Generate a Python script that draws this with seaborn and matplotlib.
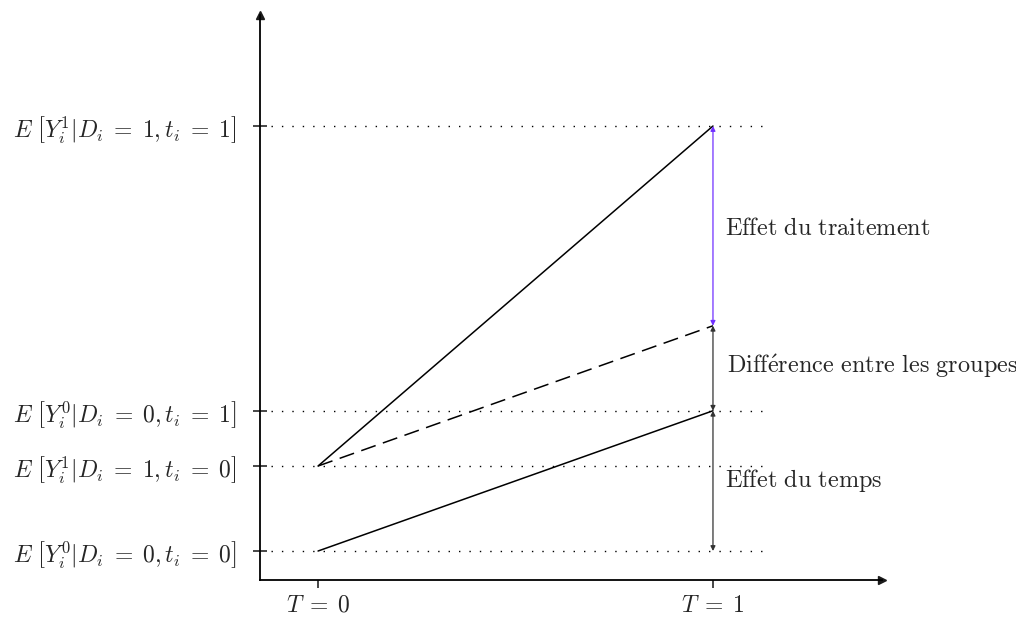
import numpy as np
import pandas as pd
import matplotlib.pyplot as plt
import seaborn as sns

# Difference-in-differences diagram, levels (arbitrary units)
periods = [0, 1]
treated = [2.0, 6.0]
counterfactual = [2.0, 3.65]
control = [1.0, 2.65]

level_values = [1.0, 2.0, 2.65, 6.0]
level_labels = [
    r"$E\ \left[Y_i^0|D_i\;=\;0,t_i\;=\;0\right]$",
    r"$E\ \left[Y_i^1|D_i\;=\;1,t_i\;=\;0\right]$",
    r"$E\ \left[Y_i^0|D_i\;=\;0,t_i\;=\;1\right]$",
    r"$E\ \left[Y_i^1|D_i\;=\;1,t_i\;=\;1\right]$",
]
period_labels = [r"$T\;=\;0$", r"$T\;=\;1$"]

effect_names = [
    r"$\mathrm{Effet\ du\ traitement}$",
    r"$\mathrm{Diff\acute{e}rence\ entre\ les\ groupes}$",
    r"$\mathrm{Effet\ du\ temps}$",
]

sns.set_theme(style="white")
plt.rcParams["mathtext.fontset"] = "cm"
plt.rcParams["font.family"] = ["DejaVu Serif"]

fig = plt.figure(figsize=(10.16, 6.17), dpi=100)
ax = fig.add_axes([260 / 1016, 1 - 580 / 617, 622 / 1016, 565 / 617])

# Lines
df = pd.DataFrame({
    "T": periods * 3,
    "Y": treated + counterfactual + control,
    "groupe": ["traite"] * 2 + ["contrefactuel"] * 2 + ["controle"] * 2,
})
sns.lineplot(data=df[df.groupe == "traite"], x="T", y="Y", color="black", lw=1.1, ax=ax)
sns.lineplot(data=df[df.groupe == "controle"], x="T", y="Y", color="black", lw=1.1, ax=ax)
sns.lineplot(data=df[df.groupe == "contrefactuel"], x="T", y="Y", color="black", lw=1.1,
             ax=ax, linestyle=(0, (10, 5)))

# Dotted guides
ax.hlines(level_values, -0.12, 1.145, colors="black", lw=1.0, linestyles=[(0, (1, 6.5))])

# Effect arrows at T=1
def double_arrow(y0, y1, color):
    ax.annotate("", xy=(1, y0), xytext=(1, y1),
                arrowprops=dict(arrowstyle="<|-|>", color=color, lw=0.9,
                                shrinkA=0, shrinkB=0, mutation_scale=7))

double_arrow(treated[1], counterfactual[1], "#7030ff")
double_arrow(counterfactual[1], control[1], "#333333")
double_arrow(control[1], control[0], "#333333")

ax.text(1.03, 4.8, effect_names[0], fontsize=17.5, va="center", ha="left")
ax.text(1.035, 3.18, effect_names[1], fontsize=17.5, va="center", ha="left")
ax.text(1.03, 1.835, effect_names[2], fontsize=17.5, va="center", ha="left")

# Axes
ax.set_xlim(-0.147, 1.428)
ax.set_ylim(0.659, 7.306)
ax.set_xticks(periods)
ax.set_xticklabels(period_labels, fontsize=17)
ax.set_yticks(level_values)
ax.set_yticklabels(level_labels, fontsize=17)
ax.set_xlabel("")
ax.set_ylabel("")
ax.tick_params(axis="y", direction="inout", length=10, width=1.2, pad=12, left=True)
ax.tick_params(axis="x", direction="out", length=6, width=1.2, pad=4, bottom=True)
for side in ["top", "right"]:
    ax.spines[side].set_visible(False)
for side in ["left", "bottom"]:
    ax.spines[side].set_color("black")
    ax.spines[side].set_linewidth(1.3)
ax.plot(1, 0, ">k", transform=ax.transAxes, clip_on=False, markersize=6)
ax.plot(0, 1, "^k", transform=ax.transAxes, clip_on=False, markersize=6)

plt.savefig("out.png", dpi=100)
